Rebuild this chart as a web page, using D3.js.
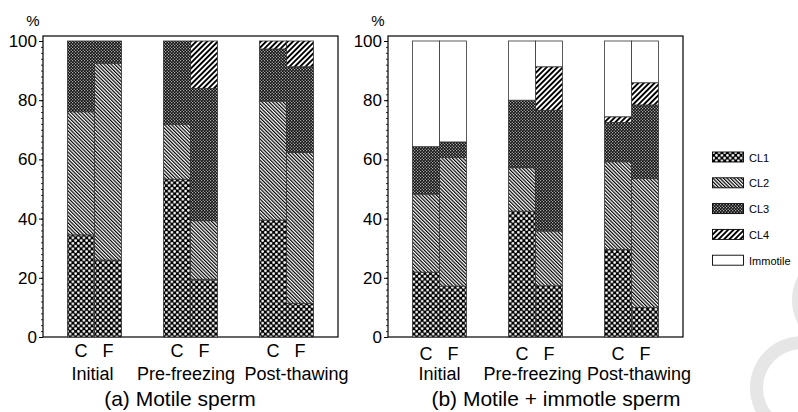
<!DOCTYPE html>
<html>
<head>
<meta charset="utf-8">
<script src="https://cdn.jsdelivr.net/npm/d3@7"></script>
<style>
  body { margin: 0; background: #fff; }
  svg { display: block; font-family: "Liberation Sans", Arial, Helvetica, sans-serif; }
</style>
</head>
<body>
<div id="chart"></div>
<script>
const groups = ["Initial", "Pre-freezing", "Post-thawing"];
const treatments = ["C", "F"];
const classes = ["CL1", "CL2", "CL3", "CL4", "Immotile"];
const yTicks = [0, 20, 40, 60, 80, 100];

// order of values: Initial C, Initial F, Pre-freezing C, Pre-freezing F, Post-thawing C, Post-thawing F
// (a) motile sperm
const aCL1 = [34.5, 26.0, 53.3, 19.5, 39.5, 11.4];
const aCL2 = [41.6, 66.5, 18.6, 19.8, 40.2, 50.9];
const aCL3 = [23.9, 7.5, 28.1, 44.7, 17.6, 29.0];
const aCL4 = [0, 0, 0, 16.0, 2.7, 8.7];
const aImmotile = [0, 0, 0, 0, 0, 0];

// (b) motile + immotile sperm
const bCL1 = [21.9, 17.2, 42.5, 17.3, 29.6, 10.0];
const bCL2 = [26.4, 43.5, 14.7, 18.5, 29.6, 43.6];
const bCL3 = [16.0, 5.2, 22.8, 40.8, 13.3, 24.8];
const bCL4 = [0, 0, 0, 14.7, 1.9, 7.5];
const bImmotile = [35.7, 34.1, 20.0, 8.7, 25.6, 14.1];

const W = 798, H = 412;

function init() {
    const svg = d3.select('#chart')
        .append('svg')
        .attr('width', W)
        .attr('height', H);

    addWatermark(svg);
    addPatterns(svg);

    drawPanel(svg, {
        left: 43, right: 338,
        title: "(a) Motile sperm", titleX: 180,
        cfY: 357, labelDx: [-2, -4.5, 10],
        series: [aCL1, aCL2, aCL3, aCL4, aImmotile]
    });
    drawPanel(svg, {
        left: 388, right: 683,
        title: "(b) Motile + immotle sperm", titleX: 556,
        cfY: 360, labelDx: [0, -3, 7.5],
        series: [bCL1, bCL2, bCL3, bCL4, bImmotile]
    });

    addLegend(svg);
}

function addPatterns(svg) {
    const defs = svg.append('defs');

    // CL1: black with white dots
    let p = defs.append('pattern').attr('id', 'pCL1')
        .attr('patternUnits', 'userSpaceOnUse').attr('width', 5.5).attr('height', 5.5);
    p.append('rect').attr('width', 5.5).attr('height', 5.5).attr('fill', '#000');
    p.append('circle').attr('cx', 1.4).attr('cy', 1.4).attr('r', 1.35).attr('fill', '#fff');
    p.append('circle').attr('cx', 4.15).attr('cy', 4.15).attr('r', 1.35).attr('fill', '#fff');

    // CL2: thin back-slash lines
    p = defs.append('pattern').attr('id', 'pCL2')
        .attr('patternUnits', 'userSpaceOnUse').attr('width', 2.5).attr('height', 10)
        .attr('patternTransform', 'rotate(-45)');
    p.append('rect').attr('width', 2.5).attr('height', 10).attr('fill', '#fff');
    p.append('rect').attr('width', 1.2).attr('height', 10).attr('fill', '#000');

    // CL3: dense fine dots
    p = defs.append('pattern').attr('id', 'pCL3')
        .attr('patternUnits', 'userSpaceOnUse').attr('width', 3).attr('height', 3);
    p.append('rect').attr('width', 3).attr('height', 3).attr('fill', '#111');
    p.append('rect').attr('x', 0.2).attr('y', 0.2).attr('width', 1).attr('height', 1).attr('fill', '#fff');
    p.append('rect').attr('x', 1.7).attr('y', 1.7).attr('width', 1).attr('height', 1).attr('fill', '#fff');

    // CL4: thick slash stripes
    p = defs.append('pattern').attr('id', 'pCL4')
        .attr('patternUnits', 'userSpaceOnUse').attr('width', 3.8).attr('height', 10)
        .attr('patternTransform', 'rotate(45)');
    p.append('rect').attr('width', 3.8).attr('height', 10).attr('fill', '#fff');
    p.append('rect').attr('width', 1.9).attr('height', 10).attr('fill', '#000');
}

const fills = {CL1: 'url(#pCL1)', CL2: 'url(#pCL2)', CL3: 'url(#pCL3)', CL4: 'url(#pCL4)', Immotile: '#fff'};

function drawPanel(svg, cfg) {
    // rows for the stack, one per bar
    const rows = [];
    groups.forEach((g, gi) => {
        treatments.forEach((t, ti) => {
            const row = {group: g, treatment: t};
            classes.forEach((c, ci) => row[c] = cfg.series[ci][gi * 2 + ti]);
            rows.push(row);
        });
    });
    const stacked = d3.stack().keys(classes)(rows);

    const yScale = d3.scaleLinear().domain([0, 100]).range([337, 41]);
    const xGroup = d3.scaleBand()
        .domain(groups)
        .range([cfg.left, cfg.right])
        .paddingInner(0.4375)
        .paddingOuter(0.255);
    const xSub = d3.scaleBand()
        .domain(treatments)
        .range([0, xGroup.bandwidth()]);

    // frame
    svg.append('rect')
        .attr('x', cfg.left).attr('y', 36)
        .attr('width', cfg.right - cfg.left).attr('height', 337 - 36)
        .attr('fill', 'none').attr('stroke', '#000').attr('stroke-width', 1.2);

    // bars
    stacked.forEach(layer => {
        svg.append('g').selectAll('rect')
            .data(layer.filter(d => d[1] - d[0] > 0))
            .join('rect')
            .attr('x', d => xGroup(d.data.group) + xSub(d.data.treatment))
            .attr('y', d => yScale(d[1]))
            .attr('width', xSub.bandwidth())
            .attr('height', d => yScale(d[0]) - yScale(d[1]))
            .attr('fill', fills[layer.key])
            .attr('stroke', '#333')
            .attr('stroke-width', 0.8);
    });

    // y axis with minor ticks
    const minor = d3.axisLeft(yScale)
        .tickValues(d3.range(0, 101, 2))
        .tickSize(2)
        .tickFormat('');
    svg.append('g')
        .attr('transform', `translate(${cfg.left},0)`)
        .call(minor)
        .call(g => g.select('.domain').remove())
        .selectAll('line').attr('stroke-width', 0.8);

    const yAxis = d3.axisLeft(yScale)
        .tickValues(yTicks)
        .tickSize(4)
        .tickPadding(2);
    svg.append('g')
        .attr('transform', `translate(${cfg.left},0)`)
        .call(yAxis)
        .call(g => g.select('.domain').remove())
        .call(g => g.selectAll('text')
            .attr('font-size', '17px')
            .attr('font-family', '"Liberation Sans", Arial, sans-serif')
            .attr('fill', '#000'));

    svg.append('text')
        .attr('x', cfg.left - 10)
        .attr('y', 26)
        .attr('text-anchor', 'middle')
        .style('font-size', '15px')
        .text('%');

    // C / F labels
    rows.forEach(r => {
        svg.append('text')
            .attr('x', xGroup(r.group) + xSub(r.treatment) + xSub.bandwidth() / 2)
            .attr('y', cfg.cfY)
            .attr('text-anchor', 'middle')
            .style('font-size', '18px')
            .text(r.treatment);
    });

    // group labels
    svg.selectAll(null)
        .data(groups)
        .enter()
        .append('text')
        .attr('x', (d, i) => xGroup(d) + xGroup.bandwidth() / 2 + cfg.labelDx[i])
        .attr('y', 380)
        .attr('text-anchor', 'middle')
        .style('font-size', '18px')
        .text(d => d);

    svg.append('text')
        .attr('x', cfg.titleX)
        .attr('y', 406)
        .attr('text-anchor', 'middle')
        .style('font-size', '21px')
        .text(cfg.title);
}

function addLegend(svg) {
    const lg = svg.append('g');
    const step = 25.8;
    classes.forEach((c, i) => {
        lg.append('rect')
            .attr('x', 712.5).attr('y', 152 + i * step)
            .attr('width', 31).attr('height', 10)
            .attr('fill', fills[c])
            .attr('stroke', '#000').attr('stroke-width', 0.9);
        lg.append('text')
            .attr('x', 749).attr('y', 161.5 + i * step)
            .style('font-size', '11px')
            .text(c);
    });
}

function addWatermark(svg) {
    const ring = d3.arc();
    svg.append('path')
        .attr('transform', 'translate(802,388)')
        .attr('d', ring({innerRadius: 39, outerRadius: 52, startAngle: 0, endAngle: 2 * Math.PI}))
        .attr('fill', '#e6e6e6');
    svg.append('path')
        .attr('transform', 'translate(842,300)')
        .attr('d', ring({innerRadius: 37, outerRadius: 50, startAngle: 0, endAngle: 2 * Math.PI}))
        .attr('fill', '#e6e6e6');
}

window.addEventListener('load', init);
</script>
</body>
</html>
